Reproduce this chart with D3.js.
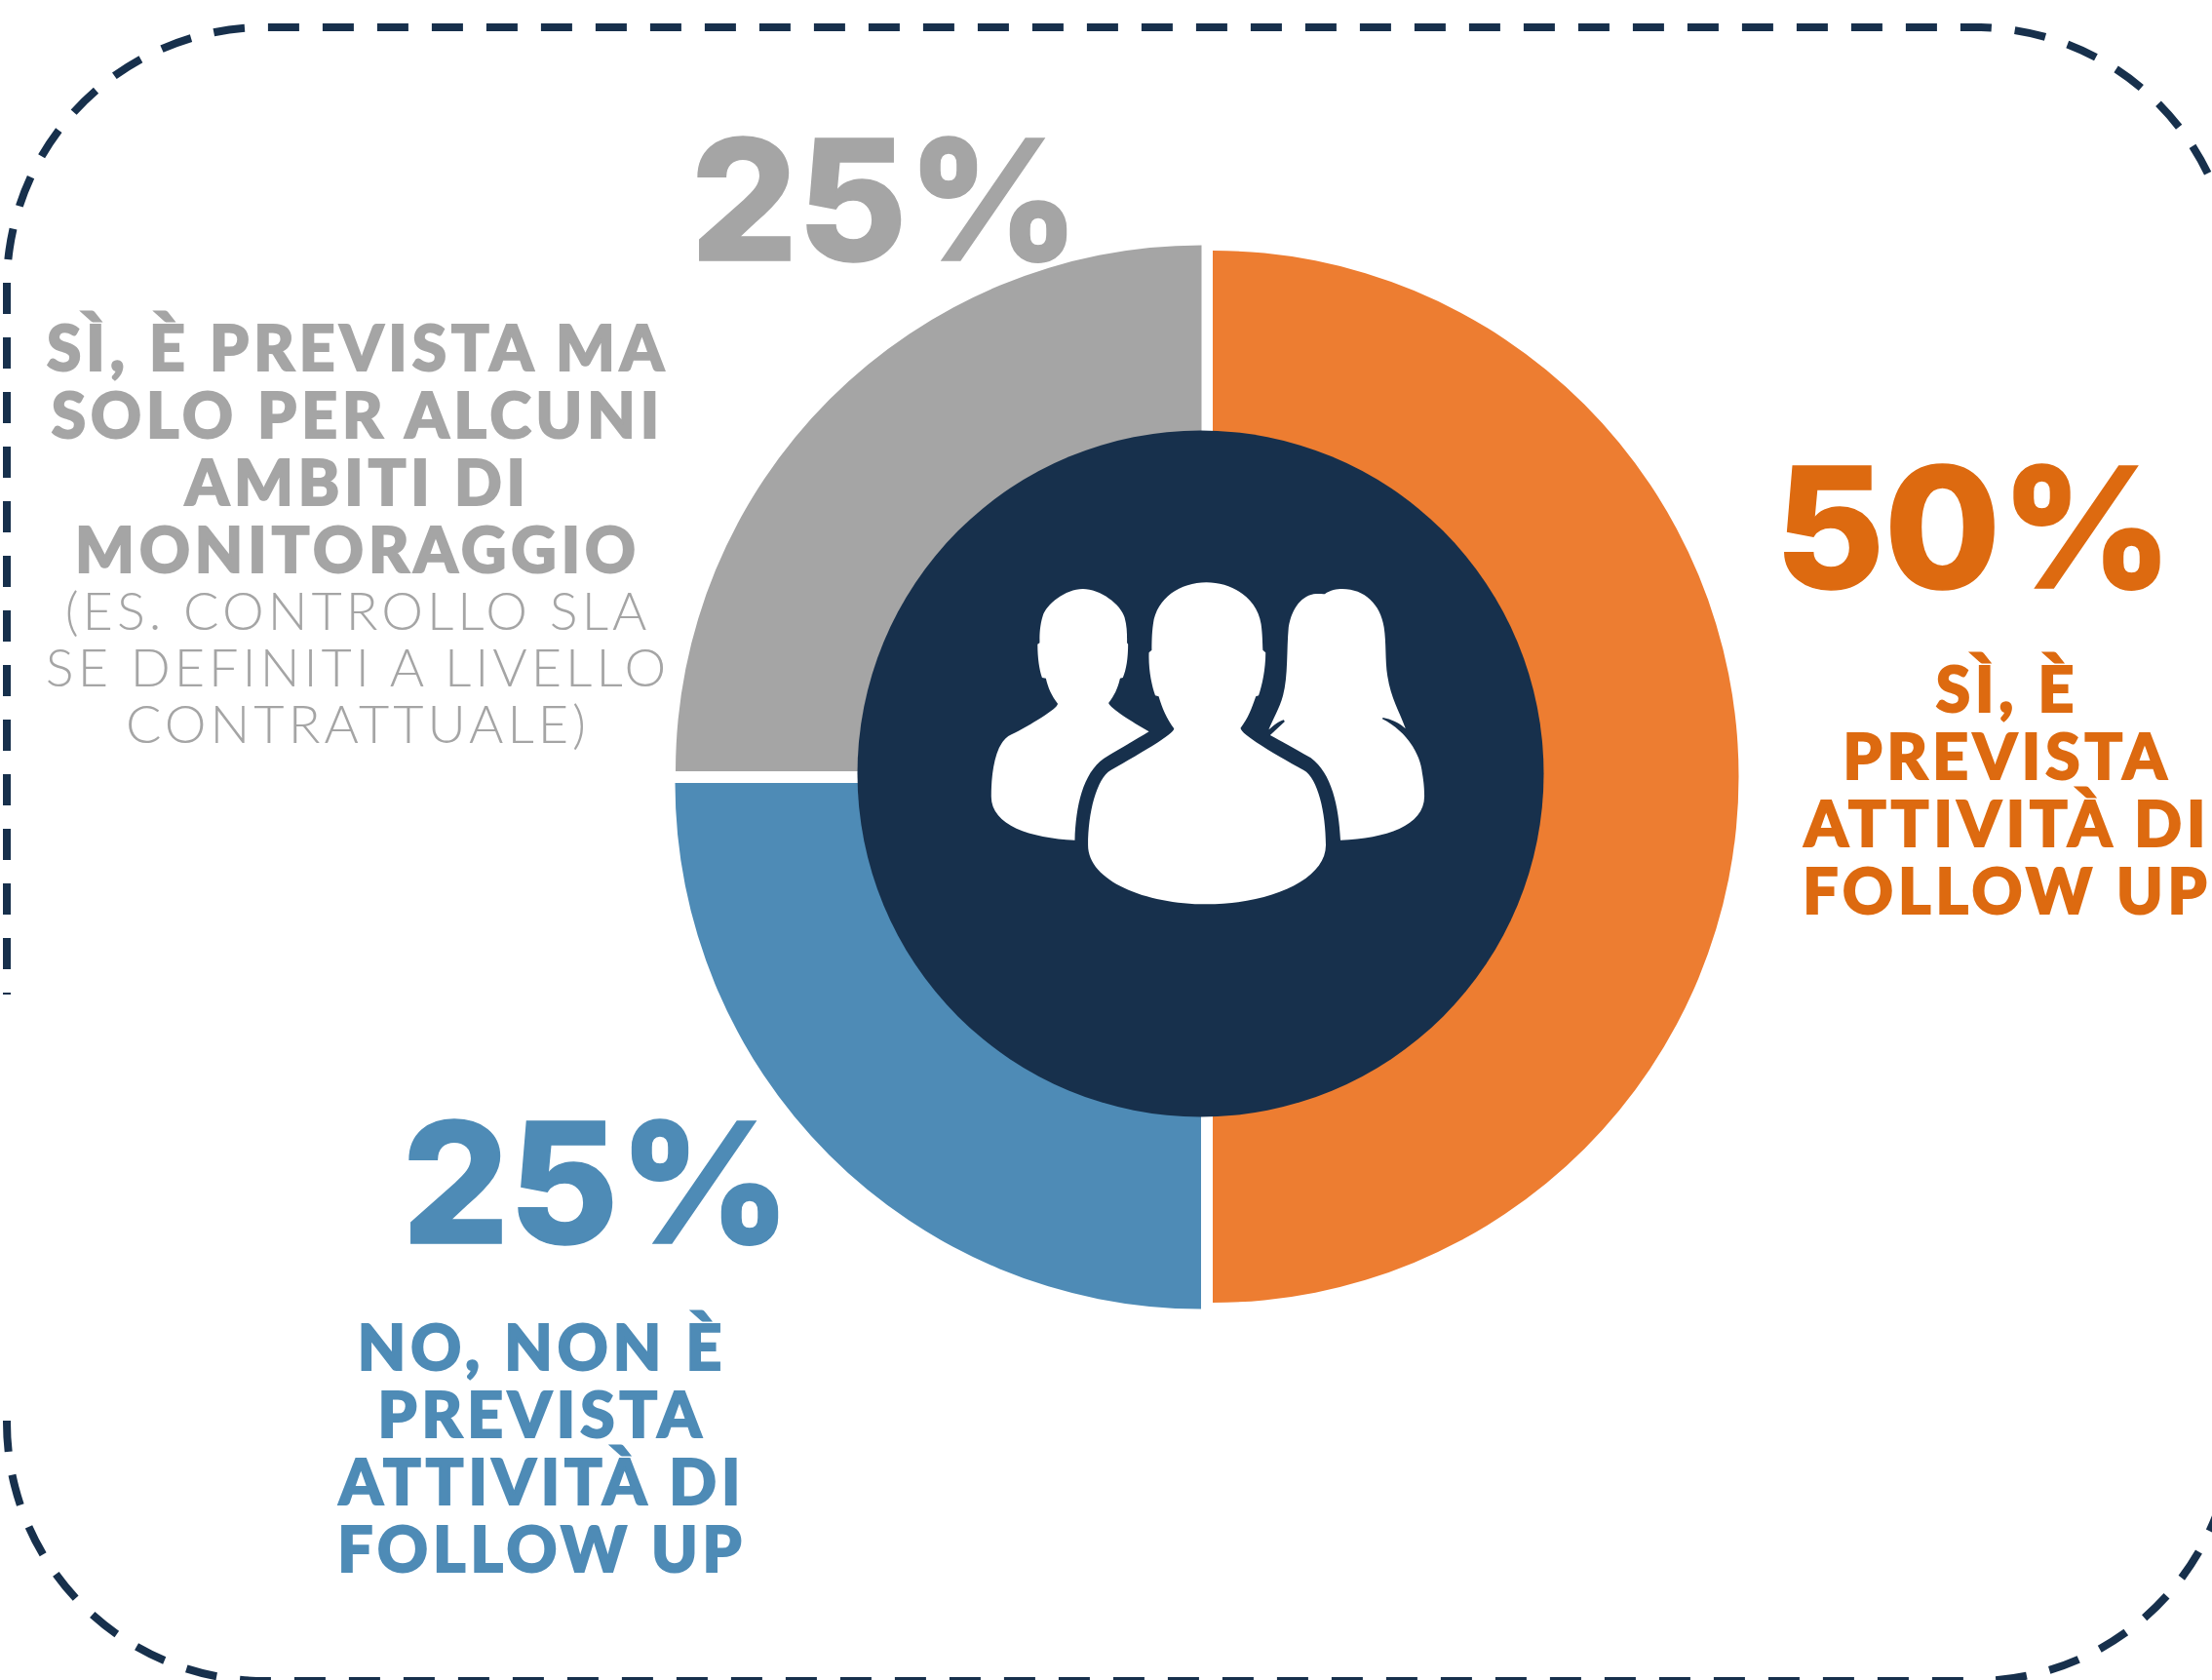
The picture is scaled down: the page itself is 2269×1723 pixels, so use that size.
<!DOCTYPE html>
<html>
<head>
<meta charset="utf-8">
<script src="https://cdn.jsdelivr.net/npm/d3@7"></script>
<style>
html, body { margin: 0; padding: 0; background: #fff; overflow: hidden; }
svg { display: block; }
text { font-family: Lato, sans-serif; text-anchor: middle; }
</style>
</head>
<body>
<svg width="2269" height="1723"></svg>
<script>
// chart values
var categories = ['Sì, è prevista attività di follow up', 'No, non è prevista attività di follow up', 'Sì, è prevista ma solo per alcuni ambiti di monitoraggio'];
var values = [50, 25, 25];
var percentLabels = ['50%', '25%', '25%'];
var headingLines = [
    ['SÌ, È', 'PREVISTA', 'ATTIVITÀ DI', 'FOLLOW UP'],
    ['NO, NON È', 'PREVISTA', 'ATTIVITÀ DI', 'FOLLOW UP'],
    ['SÌ, È PREVISTA MA', 'SOLO PER ALCUNI', 'AMBITI DI', 'MONITORAGGIO']
];
var noteLines = ['(ES. CONTROLLO SLA', 'SE DEFINITI A LIVELLO', 'CONTRATTUALE)'];

var sliceColors = ['#ed7d31', '#4e8bb6', '#a5a5a5'];
var textColors = ['#dd6a10', '#4e8bb6', '#a5a5a5'];
var navy = '#17304c';

// slices are pulled apart a little, so each has its own centre
var sliceCenters = [[1244, 796.5], [1232, 803], [1232.5, 791]];
var percentPos = [[2025, 603], [612, 1275], [908, 267]];
var headingPos = [[2059, 730], [556, 1405], [367, 380]];

var svg = d3.select('svg');

var pie = d3.pie().sort(null).value(function (d) { return d; });
var arc = d3.arc().innerRadius(300).outerRadius(539.5);

svg.selectAll('path.slice')
    .data(pie(values))
    .enter()
    .append('path')
    .attr('class', 'slice')
    .attr('d', arc)
    .attr('fill', function (d, i) { return sliceColors[i]; })
    .attr('transform', function (d, i) { return 'translate(' + sliceCenters[i] + ')'; });

svg.append('circle')
    .attr('cx', 1231.5)
    .attr('cy', 793.5)
    .attr('r', 352)
    .attr('fill', navy);

// dashed frame, open on the left side and running off the right edge
var L = 7, T = 28, R = 2291, B = 1724, r = 265;

var frameTop = d3.path();
frameTop.moveTo(L, 1020);
frameTop.lineTo(L, T + r);
frameTop.arcTo(L, T, L + r, T, r);
frameTop.lineTo(R - r, T);
frameTop.arcTo(R, T, R, T + r, r);
frameTop.lineTo(R, B - r);
frameTop.arcTo(R, B, R - r, B, r);

var frameBottom = d3.path();
frameBottom.moveTo(L, 1450);
frameBottom.lineTo(L, B - r);
frameBottom.arcTo(L, B, L + r, B, r);
frameBottom.lineTo(R - r, B);

[[frameTop, 30], [frameBottom, 49]].forEach(function (f) {
    svg.append('path')
        .attr('d', f[0].toString())
        .attr('fill', 'none')
        .attr('stroke', navy)
        .attr('stroke-width', 8)
        .attr('stroke-dasharray', '32 24')
        .attr('stroke-dashoffset', f[1]);
});

// big percentages
svg.selectAll('text.pct')
    .data(percentLabels)
    .enter()
    .append('text')
    .attr('class', 'pct')
    .attr('x', function (d, i) { return percentPos[i][0]; })
    .attr('y', function (d, i) { return percentPos[i][1]; })
    .attr('fill', function (d, i) { return textColors[i]; })
    .attr('stroke', function (d, i) { return textColors[i]; })
    .attr('stroke-width', 1.5)
    .style('font-family', 'Inter, sans-serif')
    .style('font-weight', 800)
    .style('font-size', '172px')
    .text(function (d) { return d; });

// headings, four lines each
headingLines.forEach(function (lines, k) {
    svg.selectAll('text.head' + k)
        .data(lines)
        .enter()
        .append('text')
        .attr('class', 'head' + k)
        .attr('x', headingPos[k][0])
        .attr('y', function (d, i) { return headingPos[k][1] + i * 69; })
        .attr('fill', textColors[k])
        .attr('stroke', textColors[k])
        .attr('stroke-width', 2)
        .style('font-weight', 900)
        .style('font-size', '64px')
        .style('letter-spacing', '5px')
        .text(function (d) { return d; });
});

svg.selectAll('text.note')
    .data(noteLines)
    .enter()
    .append('text')
    .attr('class', 'note')
    .attr('x', 367)
    .attr('y', function (d, i) { return 646 + i * 58; })
    .attr('fill', textColors[2])
    .style('font-weight', 300)
    .style('font-size', '54px')
    .style('letter-spacing', '4px')
    .text(function (d) { return d; });

// three people icon
var people = [
    'M450,162 C500,162 560,210 570,250 C578,280 577,310 577,328 L580,332 C580,375 575,410 565,435 L557,437 C550,470 540,490 524,513 C530,530 590,570 640,601 C600,628 560,650 510,684 C450,730 430,830 427,935 C300,928 187,890 187,800 C187,720 200,630 245,610 C300,580 378,530 378,515 C360,490 350,465 344,437 L333,435 C325,410 320,375 320,332 L326,328 C326,310 325,280 335,245 C345,210 400,162 450,162 Z',
    'M805,142 C880,142 950,190 962,270 C966,300 966,330 967,350 L975,358 C975,410 965,460 955,490 L947,493 C935,530 925,560 903,590 C905,610 1000,670 1085,720 C1125,745 1148,850 1148,950 C1148,1060 980,1132 805,1132 C630,1132 465,1060 465,950 C465,850 490,745 530,720 C610,670 712,610 712,592 C690,560 678,530 668,493 L658,490 C648,460 638,410 640,358 L648,350 C648,330 648,300 652,270 C662,190 730,142 805,142 Z',
    'M1145,178 C1160,165 1180,162 1195,162 C1260,162 1305,210 1315,280 C1322,330 1318,380 1325,430 C1335,500 1360,540 1377,592 C1360,575 1335,562 1312,558 L1310,562 C1380,600 1420,670 1425,730 C1430,760 1431,780 1431,800 C1431,890 1320,930 1190,935 C1185,830 1165,730 1105,682 C1060,655 1020,630 988,612 L1030,570 L1027,565 C1010,570 1000,582 984,595 C995,565 1015,530 1025,490 C1040,430 1035,350 1041,280 C1050,220 1080,180 1120,177 C1130,177 1140,177 1145,178 Z'
];

svg.append('g')
    .attr('transform', 'translate(950,550) scale(' + (1 / 2.8) + ',' + (1 / 3) + ')')
    .selectAll('path')
    .data(people)
    .enter()
    .append('path')
    .attr('d', function (d) { return d; })
    .attr('fill', '#fff');
</script>
</body>
</html>
